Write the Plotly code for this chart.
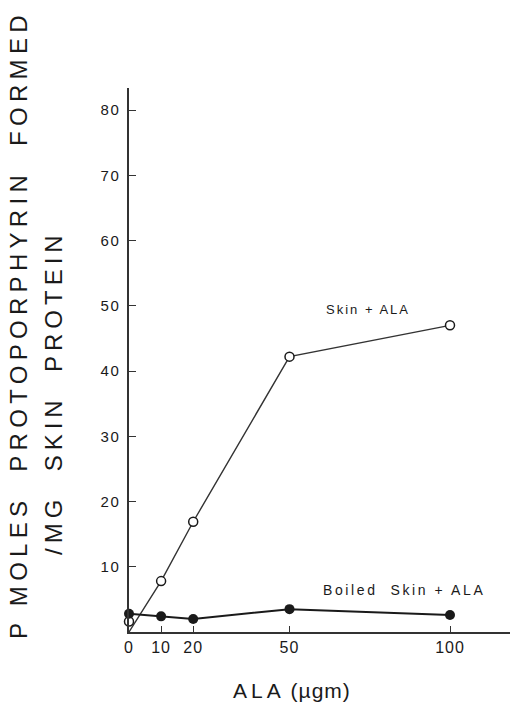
import plotly.graph_objects as go

# Data
ala_x = [0, 10, 20, 50, 100]
skin_line_y = [0, 7.8, 16.9, 42.2, 47.0]
skin_marker_y = [1.6, 7.8, 16.9, 42.2, 47.0]
boiled_y = [2.8, 2.4, 2.0, 3.5, 2.6]
x_ticks = [0, 10, 20, 50, 100]
y_ticks = [10, 20, 30, 40, 50, 60, 70, 80]

FONT = "Liberation Sans, Arial, sans-serif"
INK = "#1a1a1a"

fig = go.Figure()
fig.add_trace(go.Scatter(x=ala_x, y=skin_line_y, mode="lines",
                         line=dict(color="#333", width=1.4), cliponaxis=False,
                         showlegend=False, hoverinfo="skip"))
fig.add_trace(go.Scatter(x=ala_x, y=skin_marker_y, mode="markers",
                         marker=dict(symbol="circle", size=9, color="white",
                                     line=dict(color=INK, width=1.5)),
                         cliponaxis=False, showlegend=False, name="Skin + ALA"))
fig.add_trace(go.Scatter(x=ala_x, y=boiled_y, mode="lines+markers",
                         line=dict(color=INK, width=2),
                         marker=dict(symbol="circle", size=10, color=INK),
                         cliponaxis=False, showlegend=False, name="Boiled Skin + ALA"))

def sp(text, px):
    return f'<span style="letter-spacing:{px}px">{text}</span>'

L, R, T, B = 129, 0, 88, 78
W, H = 510, 710
pw, ph = W - L - R, H - T - B
X_PER_UNIT = 3.21
Y_PER_UNIT = 6.525

def px_x(p):
    return (p - L) / pw

def px_y(p):
    return (H - B - p) / ph

annotations = [
    dict(text=sp("P MOLES  PROTOPORPHYRIN  FORMED", 5.3), x=px_x(18), y=px_y(325),
         xref="paper", yref="paper", textangle=-90, showarrow=False,
         font=dict(family=FONT, size=24, color=INK), xanchor="center", yanchor="middle"),
    dict(text=sp("/MG  SKIN  PROTEIN", 5.0), x=px_x(53), y=px_y(393),
         xref="paper", yref="paper", textangle=-90, showarrow=False,
         font=dict(family=FONT, size=24, color=INK), xanchor="center", yanchor="middle"),
    dict(text=sp("Skin + ALA", 2), x=px_x(324), y=px_y(309),
         xref="paper", yref="paper", showarrow=False, xanchor="left", yanchor="middle",
         font=dict(family=FONT, size=13, color=INK)),
    dict(text=sp("Boiled  Skin + ALA", 2.6), x=px_x(321), y=px_y(590),
         xref="paper", yref="paper", showarrow=False, xanchor="left", yanchor="middle",
         font=dict(family=FONT, size=14, color=INK)),
    dict(text=sp("ALA", 4) + " " + sp("(µgm)", 1), x=px_x(292), y=px_y(690),
         xref="paper", yref="paper", showarrow=False, xanchor="center", yanchor="middle",
         font=dict(family=FONT, size=21, color=INK)),
]

fig.update_layout(
    width=W, height=H,
    margin=dict(l=L, r=R, t=T, b=B, pad=0),
    paper_bgcolor="white", plot_bgcolor="white",
    font=dict(family=FONT, color=INK),
    annotations=annotations,
    xaxis=dict(range=[0, pw / X_PER_UNIT], tickvals=x_ticks,
               ticktext=[sp(str(v), 1) for v in x_ticks],
               ticks="inside", ticklen=6, tickwidth=1.3, tickcolor="#333",
               showline=True, linecolor="#333", linewidth=1.5, showgrid=False, zeroline=False,
               tickfont=dict(size=16, family=FONT, color=INK)),
    yaxis=dict(range=[0, ph / Y_PER_UNIT], tickvals=y_ticks,
               ticktext=[sp(str(v), 1.5) for v in y_ticks],
               ticks="inside", ticklen=7, tickwidth=1.3, tickcolor="#333",
               showline=True, linecolor="#333", linewidth=1.5, showgrid=False, zeroline=False,
               ticklabelstandoff=4,
               tickfont=dict(size=15, family=FONT, color=INK)),
)

fig.write_html("out.html",
               config={"displayModeBar": False},
               post_script="document.body.style.margin='0';document.body.style.padding='0';")
